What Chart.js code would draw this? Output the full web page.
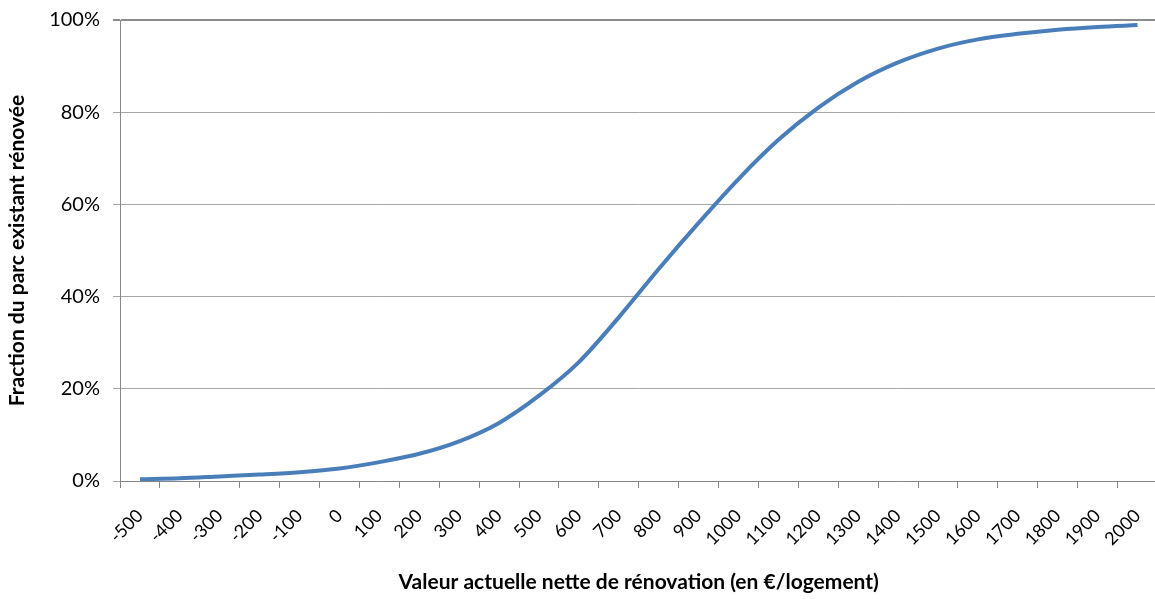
<!DOCTYPE html>
<html lang="fr">
<head>
<meta charset="utf-8">
<title>Fraction du parc existant rénovée</title>
<script src="https://cdn.jsdelivr.net/npm/chart.js@4.4.1/dist/chart.umd.min.js"></script>
<style>
  html, body { margin: 0; padding: 0; background: #fff; overflow: hidden; }
  #wrap { width: 1170px; height: 599px; position: relative; }
</style>
</head>
<body>
<div id="wrap"><canvas id="myChart"></canvas></div>
<script>
// Valeur actuelle nette (€/logement) - catégories de l'axe X
const categories = ['-500', '-400', '-300', '-200', '-100', '0', '100', '200', '300', '400', '500', '600', '700',
    '800', '900', '1000', '1100', '1200', '1300', '1400', '1500', '1600', '1700', '1800', '1900', '2000'];

// Fraction du parc existant rénovée (en %)
const fraction = [0.4, 0.6, 1.0, 1.4, 1.9, 2.7, 4.1, 5.9, 8.6, 12.6, 18.5, 25.8, 35.5,
    46.0, 56.0, 65.5, 74.0, 81.0, 86.6, 90.8, 93.8, 95.8, 97.0, 97.9, 98.5, 98.9];

// Graduations de l'axe Y
const yTicks = [0, 20, 40, 60, 80, 100];

const fontFamily = 'Lato, "Open Sans", sans-serif';

const ctx = document.getElementById('myChart').getContext('2d');

const myChart = new Chart(ctx, {
    type: 'line',
    data: {
        labels: categories,
        datasets: [{
            label: 'Fraction du parc existant rénovée',
            data: fraction,
            borderColor: '#4a7ebb',
            borderWidth: 4,
            pointRadius: 0,
            cubicInterpolationMode: 'monotone',
            fill: false
        }]
    },
    options: {
        responsive: true,
        maintainAspectRatio: false,
        animation: false,
        layout: { padding: { left: 0, right: 10, top: 20, bottom: 0 } },
        plugins: {
            legend: { display: false },
            tooltip: { enabled: false }
        },
        scales: {
            x: {
                type: 'category',
                offset: true,
                grid: {
                    offset: true,
                    drawOnChartArea: false,
                    drawTicks: true,
                    tickLength: 7,
                    color: '#868686'
                },
                border: { color: '#868686', width: 1 },
                ticks: {
                    autoSkip: false,
                    minRotation: 45,
                    maxRotation: 45,
                    padding: 17,
                    color: '#000',
                    font: { family: fontFamily, size: 18 }
                },
                title: {
                    display: true,
                    text: 'Valeur actuelle nette de rénovation (en €/logement)',
                    color: '#000',
                    font: { family: fontFamily, size: 21, weight: 'bold' },
                    padding: { top: 0, bottom: 4 }
                },
                afterFit: function(scale) { scale.height = 118; }
            },
            y: {
                min: 0,
                max: 100,
                afterBuildTicks: function(scale) {
                    scale.ticks = yTicks.map(v => ({ value: v }));
                },
                grid: {
                    color: function(c) { return c.index === yTicks.length - 1 ? '#8c8c8c' : '#a6a6a6'; },
                    lineWidth: function(c) { return c.index === yTicks.length - 1 ? 2 : 1; },
                    tickLength: 7,
                    drawTicks: true
                },
                border: { color: '#868686', width: 1 },
                ticks: {
                    padding: 13,
                    color: '#000',
                    font: { family: fontFamily, size: 20 },
                    callback: function(value) { return value + '%'; }
                },
                title: {
                    display: true,
                    text: 'Fraction du parc existant rénovée',
                    color: '#000',
                    font: { family: fontFamily, size: 21, weight: 'bold' },
                    padding: { top: 5, bottom: 0 }
                },
                afterFit: function(scale) {
                    scale.width = 120;
                    scale.paddingTop = 0;
                    scale.paddingBottom = 0;
                }
            }
        }
    }
});
</script>
</body>
</html>
